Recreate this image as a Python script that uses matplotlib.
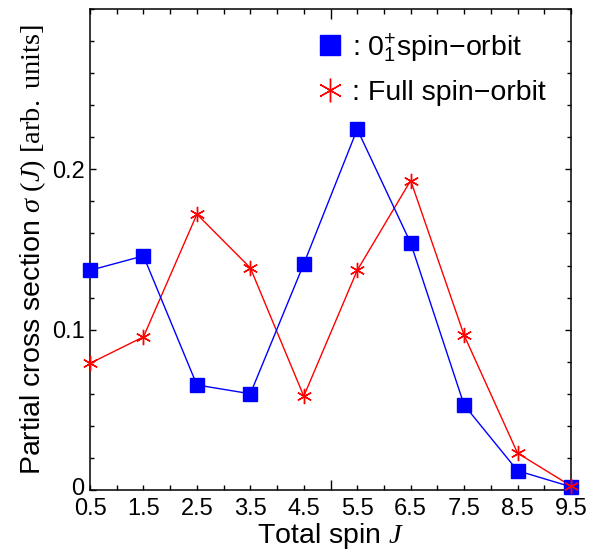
import numpy as np
import matplotlib
matplotlib.use('Agg')
import matplotlib.pyplot as plt
from matplotlib.lines import Line2D
from matplotlib.ticker import FixedLocator, FixedFormatter, NullFormatter
from matplotlib.transforms import ScaledTranslation

plt.rcParams['font.family'] = 'Liberation Sans'
plt.rcParams['mathtext.fontset'] = 'custom'
plt.rcParams['mathtext.rm'] = 'Liberation Serif'
plt.rcParams['mathtext.it'] = 'Liberation Serif:italic'
plt.rcParams['mathtext.sf'] = 'Liberation Sans'

# partial cross sections per total spin J
J = [0.5, 1.5, 2.5, 3.5, 4.5, 5.5, 6.5, 7.5, 8.5, 9.5]
sigma_01 = [0.137, 0.146, 0.0655, 0.060, 0.141, 0.225, 0.154, 0.053, 0.012, 0.002]
sigma_full = [0.079, 0.0955, 0.172, 0.1385, 0.0585, 0.137, 0.193, 0.0965, 0.023, 0.0025]

fig = plt.figure(figsize=(6.09, 5.58), dpi=100)
ax = fig.add_axes([0.1478, 0.1219, 0.7898, 0.862])

ax.plot(J, sigma_01, color='blue', lw=1.0, marker='s', ms=9.5,
        mec='blue', mfc='blue', clip_on=False, zorder=3)
ax.plot(J, sigma_full, color='red', lw=1.0, clip_on=False, zorder=2)
ax.plot(J, sigma_full, ls='none', color='red', marker=(6, 2, 0), ms=11,
        mew=1.0, clip_on=False, zorder=4)

ax.set_xlim(0.5, 9.5)
ax.set_ylim(0, 0.3)

# x: long ticks at multiples of 5, short ticks every 0.5, labels at half-integers
ax.xaxis.set_major_locator(FixedLocator([0, 5, 10]))
ax.xaxis.set_major_formatter(NullFormatter())
xminor = [v for v in np.arange(0.5, 10.0, 0.5) if v != 5.0]
ax.xaxis.set_minor_locator(FixedLocator(xminor))
ax.xaxis.set_minor_formatter(FixedFormatter(
    ['%.1f' % v if v in J else '' for v in xminor]))

ax.yaxis.set_major_locator(FixedLocator([0, 0.1, 0.2]))
ax.yaxis.set_major_formatter(FixedFormatter(['0', '0.1', '0.2']))
ax.yaxis.set_minor_locator(FixedLocator(np.arange(0, 0.301, 0.02)))

ax.tick_params(axis='x', which='major', direction='in', length=7, width=1,
               top=True, bottom=True)
ax.tick_params(axis='x', which='minor', direction='in', length=3.6, width=1,
               top=True, bottom=True, labelsize=17, pad=5.5)
ax.tick_params(axis='y', which='major', direction='in', length=4.5, width=1,
               left=True, right=True, labelsize=17, pad=4)
ax.tick_params(axis='y', which='minor', direction='in', length=2.8, width=1,
               left=True, right=True)
for s in ax.spines.values():
    s.set_linewidth(1.1)

# lift the "0" label a little so it clears the 0.5 below it
zero_lbl = ax.yaxis.get_major_ticks()[0].label1
zero_lbl.set_transform(zero_lbl.get_transform()
                       + ScaledTranslation(0, 3.5 / 100, fig.dpi_scale_trans))

ax.set_xlabel('Total spin $J$', fontsize=20.5, labelpad=1)
ax.set_ylabel(r'Partial cross section $\sigma\ (J)\ \mathrm{[arb.\ units]}$',
              fontsize=20.5, labelpad=3)

handles = [
    Line2D([], [], ls='none', marker='s', ms=15, color='blue'),
    Line2D([], [], ls='none', marker=(6, 2, 0), ms=17, mew=1.0, color='red'),
]
labels = [r': $\mathsf{0}_\mathsf{1}^\mathsf{+}$spin−orbit', ': Full spin−orbit']
ax.legend(handles, labels, loc='upper right', frameon=False, fontsize=20.5,
          handlelength=0.9, handletextpad=0.32, labelspacing=0.55,
          borderaxespad=0, bbox_to_anchor=(0.971, 0.978))

fig.savefig('out.png', dpi=100)
